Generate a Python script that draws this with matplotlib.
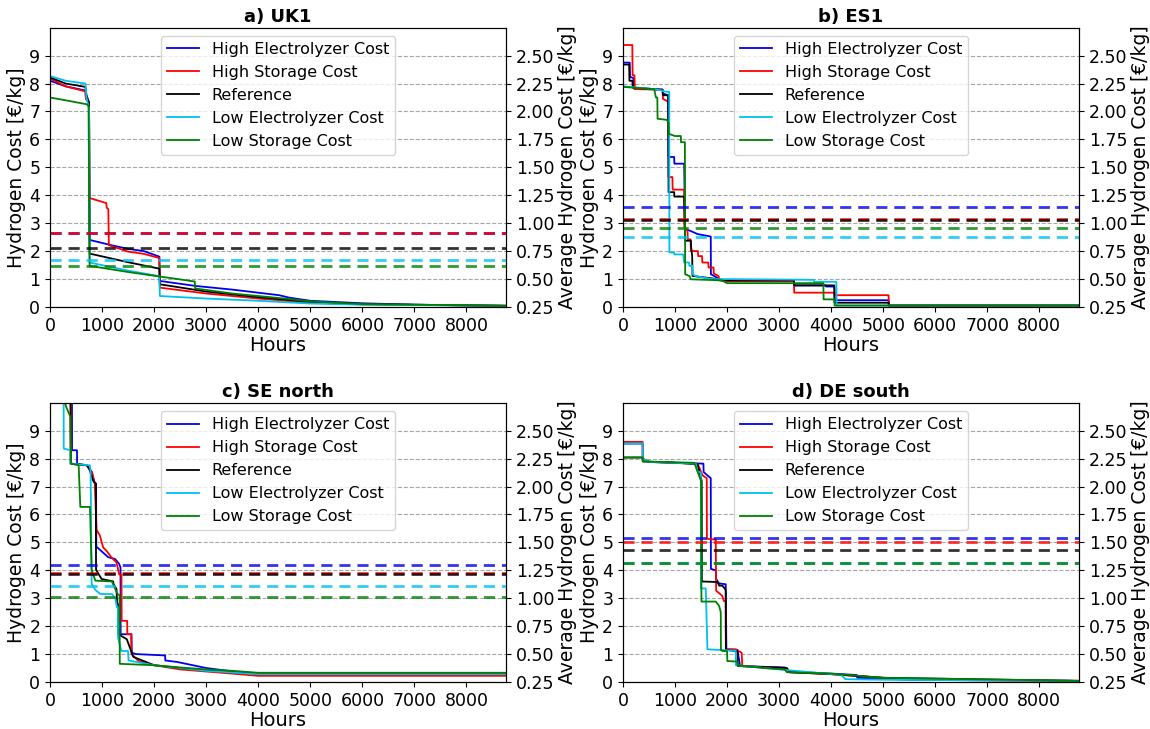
import matplotlib
matplotlib.use("Agg")
import matplotlib.pyplot as plt
import numpy as np

scenarios = ["High Electrolyzer Cost", "High Storage Cost", "Reference",
             "Low Electrolyzer Cost", "Low Storage Cost"]
colors = ["#0000ee", "#ff0000", "#000000", "#00c0f0", "#008000"]
titles = ["a) UK1", "b) ES1", "c) SE north", "d) DE south"]

# ---- duration curves: (hour, cost €/kg) breakpoints ----
UK1_HEC = [(0,8.10),(300,7.90),(680,7.75),(690,7.45),(750,7.35),(760,2.40),(1200,2.20),(1500,2.08),(1800,2.00),(2100,1.80),(2110,0.93),(2800,0.75),(3500,0.62),(4400,0.42),(4600,0.33),(5000,0.22),(6000,0.13),(7000,0.08),(8760,0.04)]
UK1_HSC = [(0,8.18),(300,7.90),(680,7.72),(690,7.45),(750,7.30),(760,3.90),(1080,3.72),(1090,3.55),(1120,3.50),(1130,2.21),(1500,1.98),(1800,1.90),(2100,1.75),(2110,0.69),(3000,0.48),(4000,0.30),(5000,0.15),(6000,0.09),(8760,0.04)]
UK1_REF = [(0,8.22),(300,8.00),(680,7.88),(700,7.60),(750,7.30),(760,1.91),(1500,1.60),(2100,1.37),(2110,0.81),(3000,0.55),(4000,0.35),(5000,0.18),(6000,0.10),(8760,0.04)]
UK1_LEC = [(0,8.27),(300,8.10),(680,8.00),(700,7.50),(750,7.10),(760,1.59),(1500,1.30),(2100,1.10),(2110,0.39),(3000,0.30),(4000,0.22),(5000,0.12),(6000,0.08),(8760,0.04)]
UK1_LSC = [(0,7.50),(300,7.40),(700,7.26),(740,7.20),(760,1.47),(1500,1.25),(2100,1.09),(2780,0.91),(2790,0.66),(3500,0.48),(4500,0.30),(5000,0.20),(6000,0.10),(8760,0.04)]

ES1_HEC = [(0,8.75),(130,8.75),(135,8.24),(200,8.20),(210,7.82),(760,7.78),(770,7.64),(870,7.58),(876,5.37),(984,5.37),(988,5.13),(1176,5.13),(1195,2.79),(1300,2.72),(1431,2.61),(1687,2.52),(1690,1.17),(1760,1.10),(1846,1.00),(1900,0.95),(3284,0.95),(3290,0.77),(3900,0.77),(3905,0.73),(4061,0.73),(4066,0.24),(5103,0.24),(5108,0.05),(8760,0.05)]
ES1_HSC = [(0,9.38),(180,9.38),(185,8.30),(220,8.30),(230,7.80),(760,7.78),(770,7.45),(870,7.35),(876,4.65),(950,4.65),(955,4.20),(1176,4.20),(1180,2.85),(1240,2.72),(1245,2.42),(1300,2.42),(1305,2.00),(1440,2.00),(1445,1.82),(1520,1.82),(1525,1.59),(1640,1.59),(1645,1.41),(1740,1.41),(1745,1.20),(1840,1.10),(1850,0.95),(2050,0.92),(3284,0.92),(3290,0.51),(4061,0.51),(4066,0.42),(5103,0.42),(5108,0.05),(8760,0.05)]
ES1_REF = [(0,8.68),(120,8.68),(125,8.10),(180,8.10),(190,7.85),(760,7.78),(770,7.58),(870,7.58),(876,4.11),(984,4.11),(988,3.95),(1176,3.95),(1195,2.37),(1304,2.37),(1308,2.18),(1330,1.82),(1336,1.11),(1800,1.00),(1900,0.95),(3284,0.95),(3290,0.77),(4061,0.77),(4066,0.15),(5103,0.15),(5108,0.05),(8760,0.05)]
ES1_LEC = [(0,7.90),(610,7.80),(760,7.75),(770,7.72),(889,7.70),(892,1.95),(984,1.95),(988,1.88),(1157,1.88),(1176,1.59),(1272,1.59),(1276,1.47),(1336,1.47),(1340,1.17),(1400,1.10),(1700,1.00),(3667,0.97),(3672,0.90),(4100,0.90),(4105,0.05),(8760,0.05)]
ES1_LSC = [(0,7.88),(600,7.80),(634,7.50),(660,7.50),(665,6.74),(840,6.70),(876,6.60),(880,6.20),(1000,6.12),(1112,6.12),(1115,5.90),(1190,5.90),(1195,1.17),(1282,1.10),(1300,0.99),(1900,0.95),(2000,0.85),(3850,0.85),(3855,0.27),(4061,0.27),(4066,0.05),(8760,0.05)]

SE_HEC = [(0,12.0),(420,12.0),(423,8.30),(518,8.30),(520,7.82),(710,7.76),(806,7.52),(850,7.16),(885,7.10),(889,4.85),(1117,4.47),(1253,4.40),(1328,4.23),(1354,4.10),(1357,1.71),(1565,1.71),(1570,1.05),(1650,1.00),(2211,0.95),(2215,0.77),(2434,0.72),(3000,0.50),(3500,0.38),(4000,0.28),(8760,0.28)]
SE_HSC = [(0,12.0),(400,12.0),(405,7.82),(710,7.76),(806,7.50),(860,7.10),(893,5.45),(957,5.25),(1021,4.82),(1085,4.70),(1181,4.46),(1277,4.28),(1330,3.85),(1373,3.85),(1376,2.19),(1482,2.19),(1485,1.71),(1560,1.71),(1565,1.00),(1700,0.75),(2000,0.60),(2500,0.45),(3500,0.30),(4000,0.22),(8760,0.22)]
SE_REF = [(0,12.0),(390,12.0),(395,7.82),(710,7.76),(760,7.60),(830,7.20),(880,7.10),(884,4.02),(990,3.69),(1214,3.60),(1220,3.51),(1277,3.33),(1290,2.79),(1310,2.79),(1313,1.71),(1475,1.53),(1600,0.90),(2000,0.60),(2500,0.50),(3000,0.42),(3500,0.35),(4000,0.30),(8760,0.30)]
SE_LEC = [(0,12.0),(260,12.0),(263,8.36),(390,8.30),(395,7.82),(767,7.76),(780,7.50),(800,3.51),(870,3.30),(966,3.15),(1189,3.15),(1253,3.00),(1285,2.67),(1304,2.67),(1306,1.59),(1370,1.11),(1500,1.11),(1508,0.77),(2000,0.60),(2500,0.50),(3000,0.40),(4000,0.28),(8760,0.28)]
SE_LSC = [(0,12.0),(290,10.5),(300,9.9),(390,9.5),(405,7.82),(550,7.76),(582,6.27),(767,6.27),(800,4.02),(870,3.63),(1189,3.60),(1253,3.33),(1300,3.15),(1336,3.10),(1340,0.65),(2000,0.60),(2500,0.52),(3000,0.45),(3500,0.40),(4000,0.33),(8760,0.33)]

DE_HEC = [(0,8.54),(378,8.54),(380,8.00),(506,7.88),(1000,7.85),(1546,7.82),(1550,7.52),(1622,7.40),(1687,7.30),(1690,4.05),(1783,4.00),(1790,3.69),(1846,3.53),(1974,3.50),(1987,1.17),(2200,1.15),(2250,0.57),(3110,0.52),(3150,0.38),(4000,0.30),(4490,0.25),(4500,0.15),(5500,0.08),(8760,0.04)]
DE_HSC = [(0,8.60),(378,8.60),(380,8.00),(506,7.88),(1000,7.85),(1432,7.82),(1530,7.40),(1610,7.30),(1613,5.13),(1783,5.10),(1790,3.27),(1905,3.09),(1940,2.90),(1974,2.90),(1977,1.17),(2166,1.17),(2280,1.05),(2293,0.57),(3100,0.50),(3200,0.35),(4000,0.28),(5000,0.15),(6000,0.07),(8760,0.04)]
DE_REF = [(0,8.04),(378,8.04),(380,7.90),(1000,7.85),(1432,7.80),(1500,7.30),(1513,7.20),(1516,3.60),(1815,3.58),(1850,3.45),(1910,3.45),(1974,3.30),(1978,1.15),(2200,1.10),(2205,0.57),(3150,0.50),(3200,0.35),(4000,0.28),(5000,0.15),(8760,0.04)]
DE_LEC = [(0,8.54),(378,8.54),(380,8.00),(506,7.88),(1400,7.82),(1432,7.55),(1495,7.50),(1498,3.35),(1591,3.35),(1623,1.17),(2166,1.12),(2170,0.60),(3000,0.45),(4200,0.25),(4273,0.10),(5000,0.08),(8760,0.04)]
DE_LSC = [(0,8.04),(378,8.04),(380,7.90),(1370,7.85),(1500,7.20),(1508,2.88),(1783,2.88),(1846,2.73),(1879,2.50),(1882,1.15),(1910,1.11),(2000,1.10),(2006,0.75),(2196,0.73),(2200,0.60),(2700,0.50),(3110,0.45),(3150,0.35),(4000,0.30),(5000,0.15),(8760,0.04)]

# ---- average hydrogen cost (right axis, €/kg) ----
UK1_AVG = [0.913, 0.913, 0.774, 0.667, 0.612]
ES1_AVG = [1.143, 1.040, 1.030, 0.880, 0.954]
SE_AVG = [1.295, 1.228, 1.215, 1.105, 1.008]
DE_AVG = [1.535, 1.500, 1.430, 1.317, 1.317]

panels = [
    ([UK1_HEC, UK1_HSC, UK1_REF, UK1_LEC, UK1_LSC], UK1_AVG),
    ([ES1_HEC, ES1_HSC, ES1_REF, ES1_LEC, ES1_LSC], ES1_AVG),
    ([SE_HEC, SE_HSC, SE_REF, SE_LEC, SE_LSC], SE_AVG),
    ([DE_HEC, DE_HSC, DE_REF, DE_LEC, DE_LSC], DE_AVG),
]

fig = plt.figure(figsize=(11.5, 7.29), dpi=100)
positions = [
    [0.0435, 0.579, 0.3965, 0.383],
    [0.5417, 0.579, 0.3965, 0.383],
    [0.0435, 0.0645, 0.3965, 0.383],
    [0.5417, 0.0645, 0.3965, 0.383],
]

for (curves, avgs), title, pos in zip(panels, titles, positions):
    ax = fig.add_axes(pos)
    ax2 = ax.twinx()
    handles = []
    for curve, col, lab in zip(curves, colors, scenarios):
        h = [p[0] for p in curve]
        v = [p[1] for p in curve]
        ln, = ax.plot(h, v, color=col, lw=1.3, label=lab)
        handles.append(ln)
    for a, col in zip(avgs, colors):
        ax2.axhline(a, color=col, ls="--", lw=2.0, alpha=0.8, dashes=(4, 2.5))
    ax.set_xlim(0, 8760)
    ax.set_ylim(0, 10)
    ax.set_yticks(range(0, 10))
    ax.set_xticks(range(0, 9000, 1000))
    ax2.set_ylim(0.25, 2.75)
    ax2.set_yticks(np.arange(0.25, 2.51, 0.25))
    ax2.set_yticklabels([f"{t:.2f}" for t in np.arange(0.25, 2.51, 0.25)])
    ax.grid(axis="y", color="grey", ls="--", lw=0.8, alpha=0.7)
    ax.tick_params(labelsize=12.5)
    ax2.tick_params(labelsize=12.5)
    ax.set_xlabel("Hours", fontsize=14, labelpad=1)
    ax.set_ylabel("Hydrogen Cost [€/kg]", fontsize=13.5, labelpad=2)
    ax2.set_ylabel("Average Hydrogen Cost [€/kg]", fontsize=13.5, labelpad=3)
    ax.set_title(title, fontsize=13, fontweight="bold", pad=4)
    ax2.legend(handles=handles, loc="upper center", fontsize=11.5,
               borderaxespad=0.5, handlelength=2.0)

fig.savefig("out.png", dpi=100)
